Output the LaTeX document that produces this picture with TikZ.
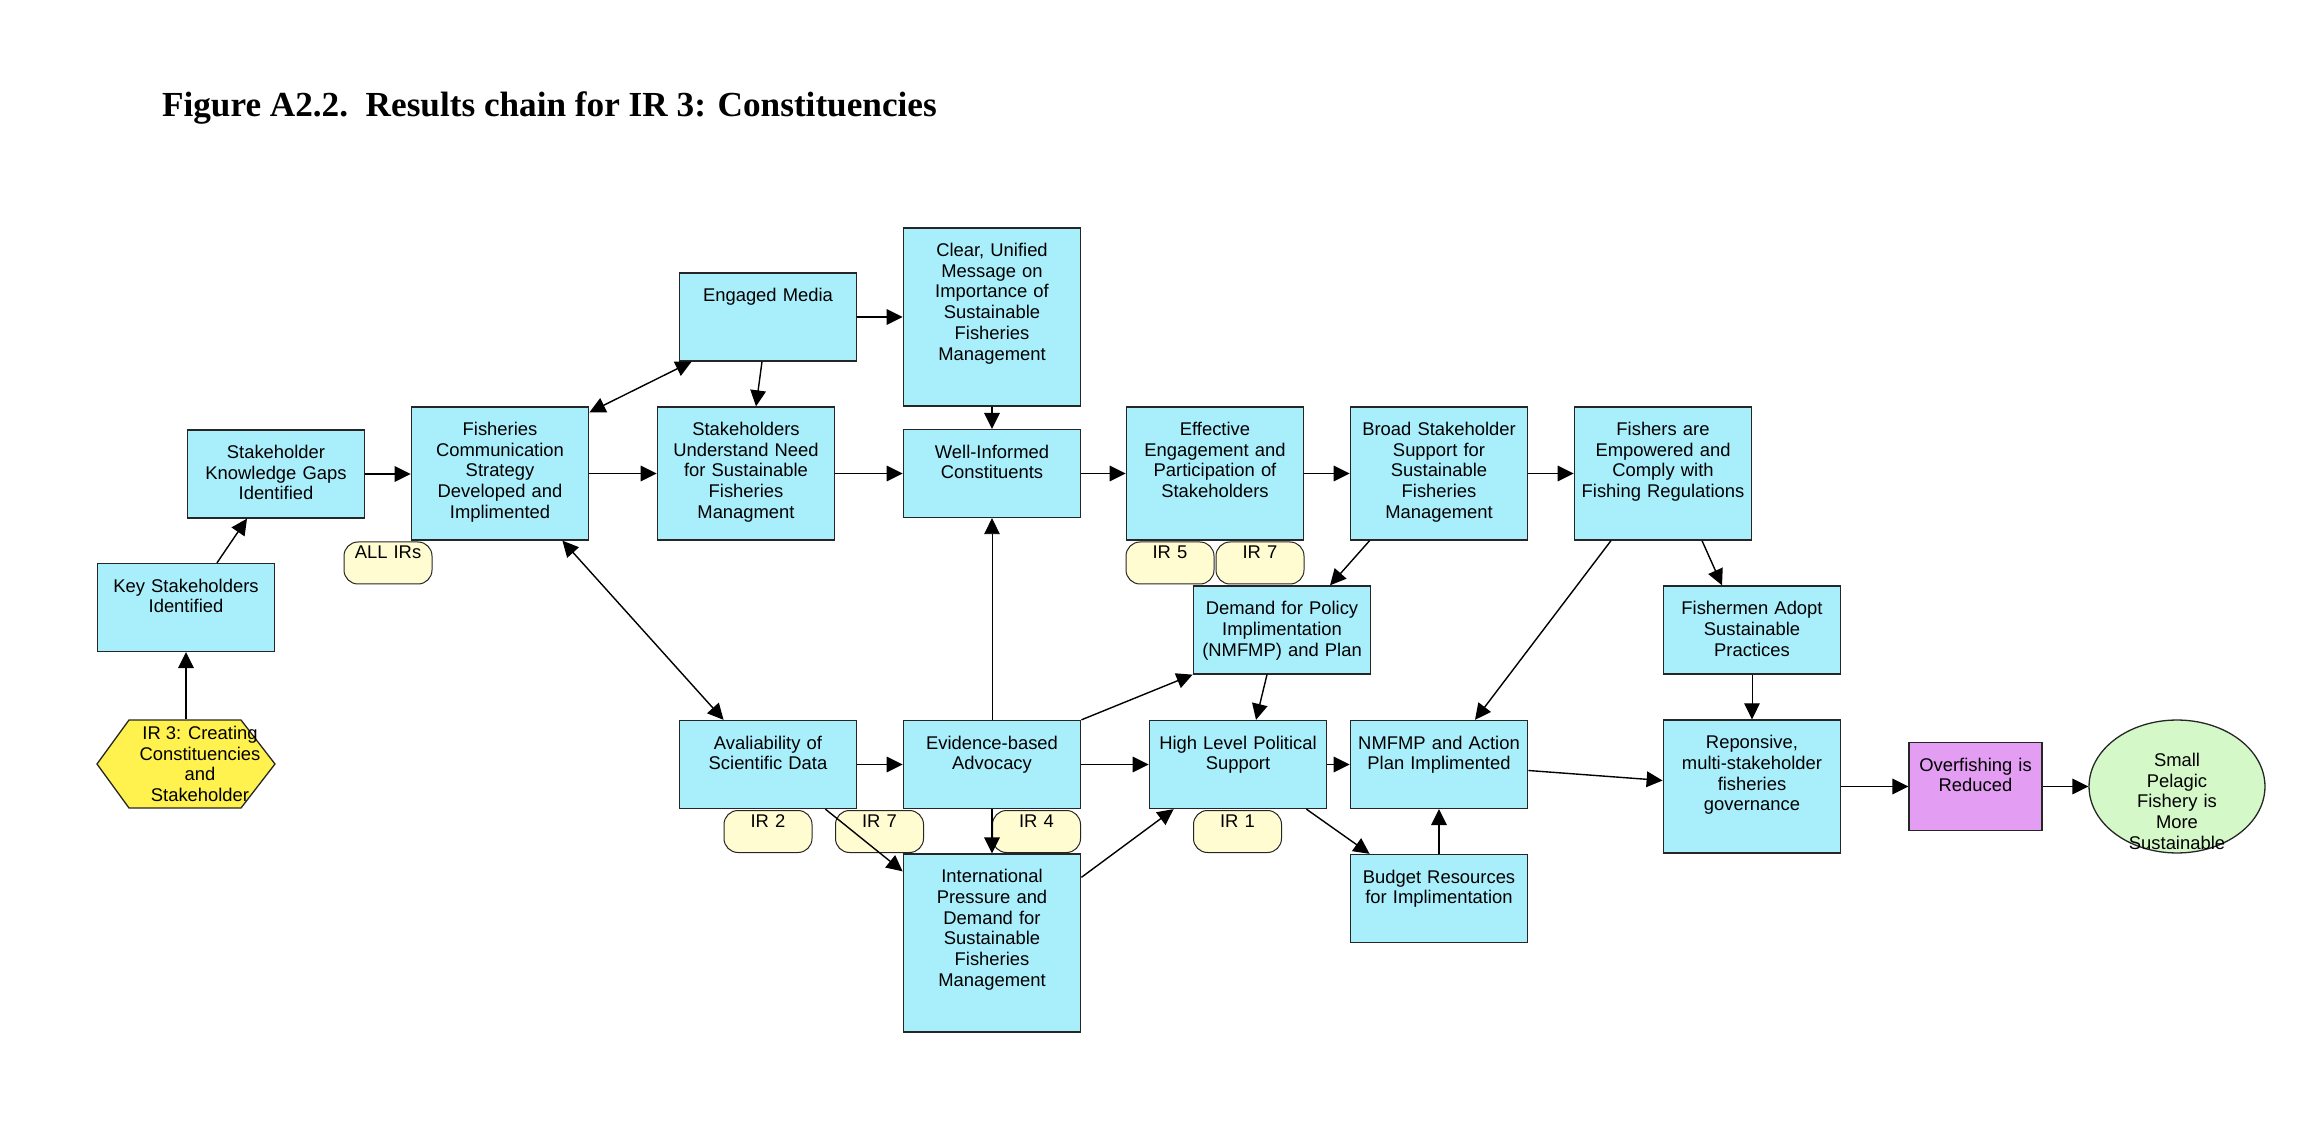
\documentclass[tikz,border=0pt]{standalone}
\usepackage{fontspec}
\setmainfont{Liberation Sans}
\newfontfamily\titlefont{Liberation Serif}
\usetikzlibrary{arrows.meta,shapes.geometric}

\definecolor{boxblue}{HTML}{A9EEFB}
\definecolor{pillyellow}{HTML}{FFFCD2}
\definecolor{hexyellow}{HTML}{FFF24F}
\definecolor{overpurple}{HTML}{E39DF3}
\definecolor{goalgreen}{HTML}{D4F8C8}

\tikzset{
	>={Triangle[length=8pt,width=7.8pt]},
	boxtext/.style={font=\fontsize{9.2}{10.35}\selectfont},
	result/.style={boxtext, draw=black!85, line width=0.65pt, fill=boxblue, align=center, text width=82.75pt, inner xsep=3pt, inner ysep=0pt, text height=14.3pt, text depth=29.7pt},
	resultmid/.style={result, text depth=52.2pt},
	resulttall/.style={result, text depth=74.7pt},
	irtag/.style={boxtext, draw=black!85, line width=0.5pt, fill=pillyellow, rounded corners=7pt, align=center, text width=38pt, inner xsep=3pt, inner ysep=0pt, text height=8.3pt, text depth=12.7pt},
	goalhex/.style={boxtext, align=center, minimum width=104pt, minimum height=45pt, inner sep=0pt,
		path picture={\draw[fill=hexyellow, draw=black!85, line width=0.65pt]
			([shift={(-71,-44)}]path picture bounding box.center) -- ([shift={(41,-44)}]path picture bounding box.center)
			-- ([shift={(75,0)}]path picture bounding box.center) -- ([shift={(41,44)}]path picture bounding box.center)
			-- ([shift={(-71,44)}]path picture bounding box.center) -- ([shift={(-103,0)}]path picture bounding box.center) -- cycle;}},
	goal/.style={boxtext, ellipse, draw=black!85, line width=0.65pt, fill=goalgreen, align=center, text width=62.2pt, inner sep=0pt, text height=13.5pt, text depth=33.5pt},
	link/.style={->, line width=0.7pt},
	thinlink/.style={->, line width=0.4pt},
}

\begin{document}
\begin{tikzpicture}[x=0.5pt, y=-0.5pt]
			\useasboundingbox (0,0) rectangle (2304,1144);
			\node[anchor=base west, font=\titlefont\bfseries\fontsize{17.6}{21}\selectfont] (title) at (155,117) {Figure A2.2.~~Results chain for IR 3: Constituencies};

			\node[goalhex] (ir3) at (200,764) {IR 3: Creating\\Constituencies\\and\\Stakeholder};
			\node[result] (key) at (186,607.5) {Key Stakeholders\\Identified};
			\node[result] (gaps) at (276,474) {Stakeholder\\Knowledge Gaps\\Identified};
			\node[resultmid] (comm) at (500,473.5) {Fisheries\\Communication\\Strategy\\Developed and\\Implimented};
			\node[result] (media) at (768,317) {Engaged Media};
			\node[resultmid] (understand) at (746,473.5) {Stakeholders\\Understand Need\\for Sustainable\\Fisheries\\Managment};
			\node[resulttall] (message) at (992,317) {Clear, Unified\\Message on\\Importance of\\Sustainable\\Fisheries\\Management};
			\node[result] (informed) at (992,473.5) {Well-Informed\\Constituents};
			\node[resultmid] (engage) at (1215,473.5) {Effective\\Engagement and\\Participation of\\Stakeholders};
			\node[resultmid] (broad) at (1439,473.5) {Broad Stakeholder\\Support for\\Sustainable\\Fisheries\\Management};
			\node[resultmid] (empower) at (1663,473.5) {Fishers are\\Empowered and\\Comply with\\Fishing Regulations};
			\node[result] (demand) at (1282,630) {Demand for Policy\\Implimentation\\(NMFMP) and Plan};
			\node[result] (adopt) at (1752,630) {Fishermen Adopt\\Sustainable\\Practices};
			\node[result] (data) at (768,764.5) {Avaliability of\\Scientific Data};
			\node[result] (advocacy) at (992,764.5) {Evidence-based\\Advocacy};
			\node[result] (political) at (1238,764.5) {High Level Political\\Support};
			\node[result] (action) at (1439,764.5) {NMFMP and Action\\Plan Implimented};
			\node[resultmid] (governance) at (1752,786.5) {Reponsive,\\multi-stakeholder\\fisheries\\governance};
			\node[result, fill=overpurple, text width=60.5pt] (overfishing) at (1975.5,786.5) {Overfishing is\\Reduced};
			\node[goal] (pelagic) at (2177,786.5) {Small\\Pelagic\\Fishery is\\More\\Sustainable};
			\node[resulttall] (pressure) at (992,943) {International\\Pressure and\\Demand for\\Sustainable\\Fisheries\\Management};
			\node[result] (budget) at (1439,898.5) {Budget Resources\\for Implimentation};

			\node[irtag] (allirs) at (388,563) {ALL IRs};
			\node[irtag] (irfive) at (1170,563) {IR 5};
			\node[irtag] (irsevena) at (1260,563) {IR 7};
			\node[irtag] (irtwo) at (768,831.5) {IR 2};
			\node[irtag] (irsevenb) at (879.5,831.5) {IR 7};
			\node[irtag] (irfour) at (1036.5,831.5) {IR 4};
			\node[irtag] (irone) at (1237.5,831.5) {IR 1};

			\draw[link] (key.south |- ir3.north) -- (key.south);
			\draw[link] ([xshift=15.5pt]key.north) -- ([xshift=-14.5pt]gaps.south);
			\draw[link] (gaps.east) -- (gaps.east -| comm.west);
			\draw[link] (comm) -- (understand);
			\draw[link] (understand) -- (informed);
			\draw[link] (informed) -- (engage);
			\draw[link] (engage) -- (broad);
			\draw[link] (broad) -- (empower);
			\draw[link] (media) -- (message);
			\draw[link] ([xshift=-3pt]media.south) -- ([xshift=5pt]understand.north);
			\draw[link] (message) -- (informed);
			\draw[link, <->] ([yshift=-3pt]comm.north east) -- ([xshift=6.5pt]media.south west);
			\draw[link, <->] ([xshift=-13.5pt]comm.south east) -- ([xshift=22.5pt]data.north west);
			\draw[thinlink] (advocacy) -- (informed);
			\draw[link] (data) -- (advocacy);
			\draw[link] (advocacy) -- (political);
			\draw[link] (political) -- (action);
			\draw[link] (advocacy.north east) -- (demand.south west);
			\draw[link] ([xshift=10pt]broad.south west) -- ([xshift=24pt]demand.north);
			\draw[link] ([xshift=-7.5pt]demand.south) -- ([xshift=9pt]political.north);
			\draw[link] ([xshift=-16pt]data.south east) -- ([yshift=-9pt]pressure.north west);
			\draw[link] (advocacy) -- (pressure);
			\draw[link] ([yshift=-12pt]pressure.north east) -- ([xshift=12.5pt]political.south west);
			\draw[link] ([xshift=-10.5pt]political.south east) -- ([xshift=10pt]budget.north west);
			\draw[link] (budget) -- (action);
			\draw[link] ([xshift=-26pt]empower.south) -- ([xshift=18pt]action.north);
			\draw[link] ([xshift=19.5pt]empower.south) -- ([xshift=-15pt]adopt.north);
			\draw[thinlink] (adopt) -- (governance);
			\draw[link] ([yshift=-3pt]action.east) -- ([yshift=3pt]governance.west);
			\draw[link] (governance) -- (overfishing);
			\draw[link] (overfishing) -- (pelagic);
		\end{tikzpicture}
\end{document}
